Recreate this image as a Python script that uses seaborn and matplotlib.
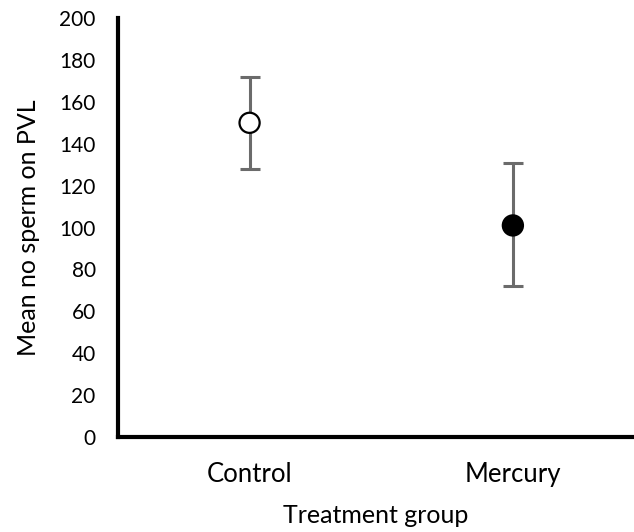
import matplotlib
matplotlib.use("Agg")
import matplotlib.pyplot as plt
import seaborn as sns
import pandas as pd

groups = ["Control", "Mercury"]
means = [150, 101]
lower = [128, 72]
upper = [172, 131]
face_colors = ["white", "black"]

sns.set_theme(style="white")
plt.rcParams['font.family'] = ['Lato', 'DejaVu Sans']

df = pd.DataFrame({"group": groups, "mean": means})

fig = plt.figure(figsize=(6.34, 5.32), dpi=100)
ax = fig.add_axes([0.186, 0.1786, 0.814, 0.7874])

pos = list(range(len(groups)))
ax.errorbar(pos, means,
            yerr=[[m - l for m, l in zip(means, lower)], [u - m for m, u in zip(means, upper)]],
            fmt="none", ecolor="#6b6b6b", elinewidth=2.2, capsize=7, capthick=2.2, zorder=1)
sns.scatterplot(data=df, x="group", y="mean", ax=ax, s=210, marker="o",
                color="black", edgecolor="black", linewidth=1.6, zorder=3)
ax.collections[-1].set_facecolors(face_colors)

ax.set_xlim(-0.5, 1.46)
ax.set_ylim(0, 200)
ax.set_yticks(range(0, 201, 20))
ax.tick_params(axis="both", length=0, colors="black")
ax.tick_params(axis="x", pad=18, labelsize=18.5)
ax.tick_params(axis="y", pad=16, labelsize=15)
ax.set_xlabel("Treatment group", fontsize=18, labelpad=12, color="black")
ax.set_ylabel("Mean no sperm on PVL", fontsize=18, labelpad=14, color="black")

for s in ["top", "right"]:
    ax.spines[s].set_visible(False)
for s in ["left", "bottom"]:
    ax.spines[s].set_linewidth(3)
    ax.spines[s].set_color("black")

fig.savefig("out.png", dpi=100)
